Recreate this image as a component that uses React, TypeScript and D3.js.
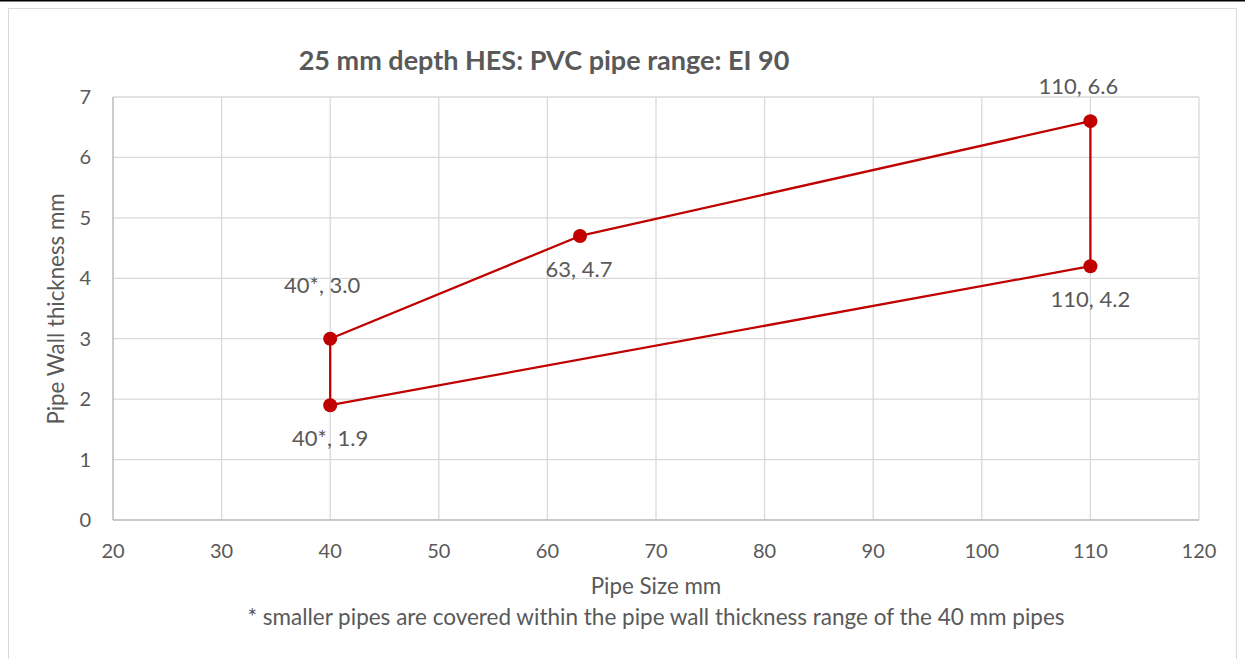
import React from "react";
import * as d3 from "d3";

const pipeSize = [40, 63, 110, 110, 40, 40];
const wallThickness = [3.0, 4.7, 6.6, 4.2, 1.9, 3.0];
const pointLabels = ["40*, 3.0", "63, 4.7", "110, 6.6", "110, 4.2", "40*, 1.9"];
const labelPos = ["aboveLeft", "below", "above", "below", "below"];
const xTicks = [20, 30, 40, 50, 60, 70, 80, 90, 100, 110, 120];
const yTicks = [0, 1, 2, 3, 4, 5, 6, 7];

const W = 1245, H = 659;
const FONT = "Lato, 'Open Sans', sans-serif";
const TXT = "#595959";
const RED = "#C00000";

export default function App() {
  const x = d3.scaleLinear().domain([20, 120]).range([113, 1199]);
  const y = d3.scaleLinear().domain([0, 7]).range([520, 97]);
  const pts = pipeSize.map((v, i) => [x(v), y(wallThickness[i])] as [number, number]);
  const line = d3.line()(pts) || "";
  return (
    <svg width={W} height={H} style={{ position: "absolute", left: 0, top: 0, background: "#fff" }}>
      <rect x={0} y={0} width={W} height={H} fill="#fff" />
      <line x1={0} x2={W} y1={0.5} y2={0.5} stroke="#000" strokeWidth={2} />
      <rect x={8.5} y={8.5} width={1228} height={660} fill="none" stroke="#d9d9d9" strokeWidth={1} />
      {xTicks.map((t) => (
        <line key={"gx" + t} x1={x(t)} x2={x(t)} y1={y(7)} y2={y(0)} stroke="#d9d9d9" strokeWidth={1.3} />
      ))}
      {yTicks.map((t) => (
        <line key={"gy" + t} x1={x(20)} x2={x(120)} y1={y(t)} y2={y(t)} stroke="#d9d9d9" strokeWidth={1.3} />
      ))}
      <line x1={x(20)} x2={x(120)} y1={y(0)} y2={y(0)} stroke="#bfbfbf" strokeWidth={1.3} />
      <line x1={x(20)} x2={x(20)} y1={y(0)} y2={y(7)} stroke="#bfbfbf" strokeWidth={1.3} />
      {xTicks.map((t) => (
        <text key={"tx" + t} x={x(t)} y={558} textAnchor="middle" fontFamily={FONT} fontSize={20} fill={TXT}>{t}</text>
      ))}
      {yTicks.map((t) => (
        <text key={"ty" + t} x={91} y={y(t) + 7} textAnchor="end" fontFamily={FONT} fontSize={20} fill={TXT}>{t}</text>
      ))}
      <text x={544} y={70} textAnchor="middle" fontFamily={FONT} fontSize={27} fontWeight="bold" fill={TXT}>25 mm depth HES: PVC pipe range: EI 90</text>
      <text x={656} y={594} textAnchor="middle" fontFamily={FONT} fontSize={22.4} fill={TXT}>Pipe Size mm</text>
      <text x={656} y={625} textAnchor="middle" fontFamily={FONT} fontSize={22.5} fill={TXT}>* smaller pipes are covered within the pipe wall thickness range of the 40 mm pipes</text>
      <text transform={`translate(64,309) rotate(-90)`} textAnchor="middle" fontFamily={FONT} fontSize={22.3} fill={TXT}>Pipe Wall thickness mm</text>
      <path d={line} fill="none" stroke={RED} strokeWidth={2.3} strokeLinejoin="round" />
      {pts.slice(0, 5).map((p, i) => (
        <circle key={"c" + i} cx={p[0]} cy={p[1]} r={7} fill={RED} />
      ))}
      {pts.slice(0, 5).map((p, i) => {
        const pos = labelPos[i];
        let lx = p[0], ly = p[1];
        if (pos === "aboveLeft") { lx = p[0] - 8; ly = p[1] - 46; }
        else if (pos === "above") { lx = p[0] - 12; ly = p[1] - 27; }
        else { ly = p[1] + 41; }
        if (i === 1) { lx = p[0] - 1; ly = p[1] + 41; }
        return (
          <text key={"l" + i} x={lx} y={ly} textAnchor="middle" fontFamily={FONT} fontSize={22} fill={TXT}>{pointLabels[i]}</text>
        );
      })}
    </svg>
  );
}
